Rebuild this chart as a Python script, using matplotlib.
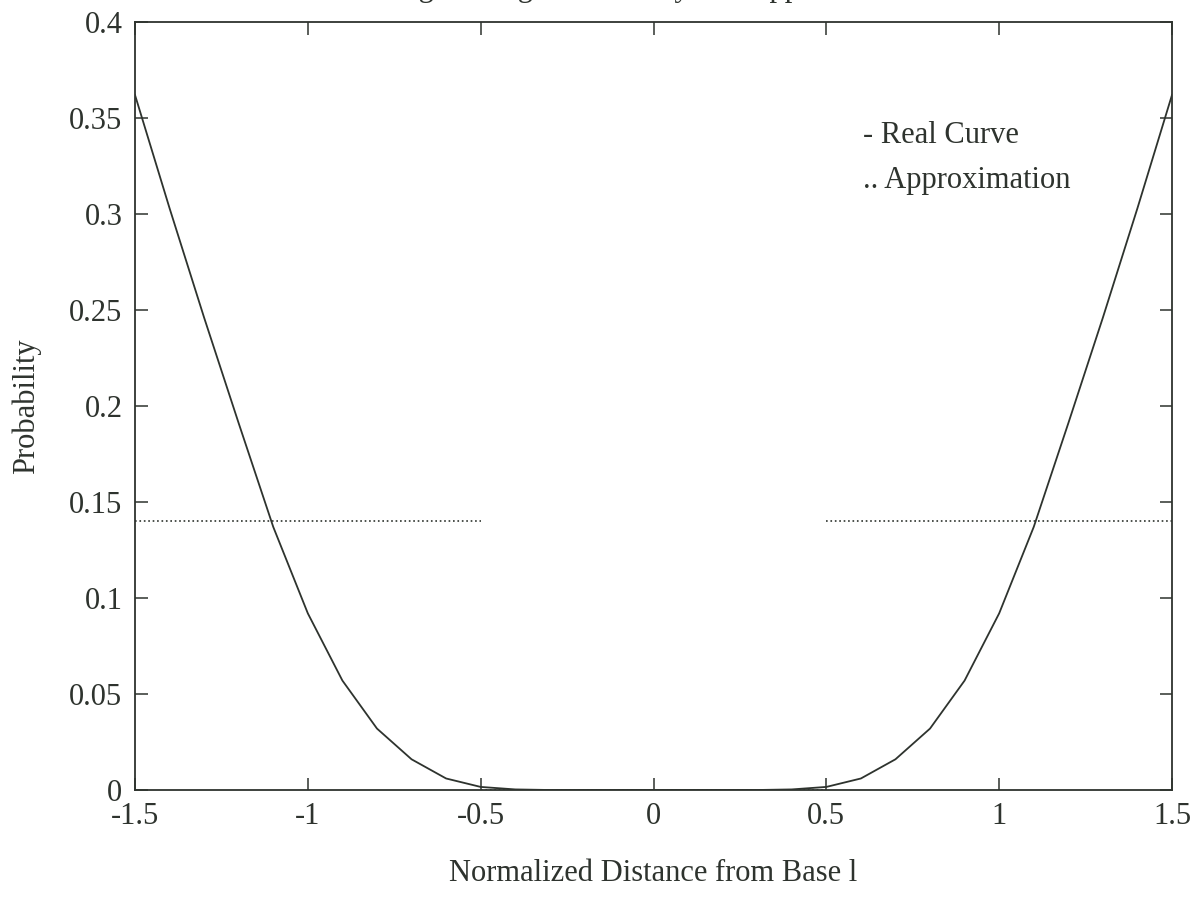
import numpy as np
import matplotlib.pyplot as plt

plt.rcParams['font.family'] = ['Liberation Serif', 'DejaVu Serif']

x_real = [-1.5, -1.4, -1.3, -1.2, -1.1, -1.0, -0.9, -0.8, -0.7, -0.6, -0.5,
          -0.4, -0.3, -0.2, -0.1, 0.0, 0.1, 0.2, 0.3, 0.4,
          0.5, 0.6, 0.7, 0.8, 0.9, 1.0, 1.1, 1.2, 1.3, 1.4, 1.5]
y_real = [0.362, 0.303, 0.246, 0.191, 0.137, 0.092, 0.057, 0.032, 0.016, 0.006, 0.0016,
          0.0003, 0.0, 0.0, 0.0, 0.0, 0.0, 0.0, 0.0, 0.0003,
          0.0016, 0.006, 0.016, 0.032, 0.057, 0.092, 0.137, 0.191, 0.246, 0.303, 0.362]

# step approximation
x_approx = [-1.5, -0.5, -0.5, 0.5, 0.5, 1.5]
y_approx = [0.14, 0.14, 0.0, 0.0, 0.14, 0.14]

xticks = [-1.5, -1, -0.5, 0, 0.5, 1, 1.5]
yticks = [0, 0.05, 0.1, 0.15, 0.2, 0.25, 0.3, 0.35, 0.4]
ink = '#2e332e'
fs = 22

fig = plt.figure(figsize=(12.04, 9), dpi=100)
ax = fig.add_axes([135 / 1204, 1 - 790 / 900, (1172 - 135) / 1204, (790 - 22) / 900])

ax.plot(x_real, y_real, '-', color=ink, lw=1.3)
# split at the jumps so the vertical parts are not drawn
ax.plot(x_approx[:2], y_approx[:2], ':', color=ink, lw=1.2)
ax.plot(x_approx[2:4], y_approx[2:4], ':', color=ink, lw=1.2)
ax.plot(x_approx[4:], y_approx[4:], ':', color=ink, lw=1.2)

ax.set_xlim(-1.5, 1.5)
ax.set_ylim(0, 0.4)
ax.set_xticks(xticks)
ax.set_xticklabels(['-1.5', '-1', '-0.5', '0', '0.5', '1', '1.5'])
ax.set_yticks(yticks)
ax.set_yticklabels(['0', '0.05', '0.1', '0.15', '0.2', '0.25', '0.3', '0.35', '0.4'])
ax.tick_params(direction='in', length=9, width=1.1, top=True, right=True,
               labelsize=fs, colors=ink, pad=9)
for s in ax.spines.values():
    s.set_color(ink)
    s.set_linewidth(1.3)

ax.set_xlabel('Normalized Distance from Base l', fontsize=fs, color=ink, labelpad=20)
ax.set_ylabel('Probability', fontsize=fs, color=ink, labelpad=20)

ax.text(0.702, 0.842, '- Real Curve', transform=ax.transAxes, fontsize=fs,
        color=ink, va='baseline')
ax.text(0.702, 0.784, '.. Approximation', transform=ax.transAxes, fontsize=fs,
        color=ink, va='baseline')

# title sits mostly above the page edge in the scan
fig.text(0.545, 1.0 + 4 / 900, 'Single Bridge Probability and Approximation',
         ha='center', va='baseline', fontsize=fs, color=ink)

fig.savefig('out.png', dpi=100)
